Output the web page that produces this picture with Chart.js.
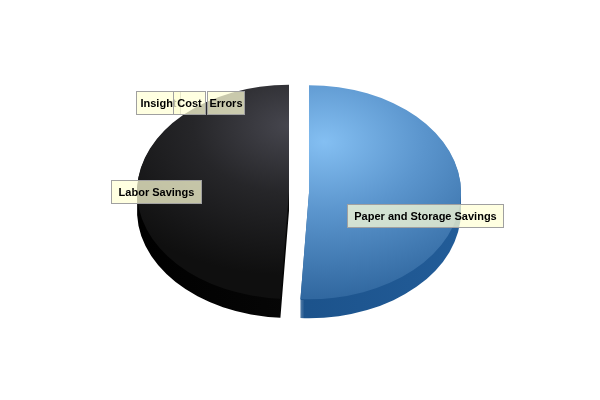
<!DOCTYPE html>
<html>
<head>
<meta charset="utf-8">
<script src="https://cdn.jsdelivr.net/npm/chart.js@4/dist/chart.umd.min.js"></script>
<style>
  html, body { margin: 0; padding: 0; background: #ffffff; }
  #wrap { width: 600px; height: 400px; }
</style>
</head>
<body>
<div id="wrap"><canvas id="c" width="600" height="400"></canvas></div>
<script>
// ---- data ----
const categories = ['Paper and Storage Savings', 'Labor Savings', 'Insight', 'Cost', 'Errors'];
const shares = [50.9, 49.1, 0, 0, 0];

// ---- styling / layout (not data) ----
const faceStops = [
  { at: [0.10, -0.47], r: 1.45, stops: [[0, '#84bff2'], [0.45, '#5b95cd'], [1, '#3168a0']] },
  { at: [0.0, -0.62], r: 1.4, stops: [[0, '#46464e'], [0.45, '#262629'], [1, '#0f0f0f']] },
  { at: [0, 0], r: 1, stops: [[0, '#999'], [1, '#999']] },
  { at: [0, 0], r: 1, stops: [[0, '#999'], [1, '#999']] },
  { at: [0, 0], r: 1, stops: [[0, '#999'], [1, '#999']] }
];
const sideColors = [['#164a80', '#225c98'], ['#000000', '#0c0c0c'], ['#666', '#666'], ['#666', '#666'], ['#666', '#666']];
const explode = [10, 10, 0, 0, 0];
// label box centres relative to pie centre, in radius units (x) and tilted-radius units (y)
const labelLayout = [
  { fx: 0.829, fy: 0.220, pad: 7 },
  { fx: -0.941, fy: -0.005, pad: 7 },
  { fx: -0.928, fy: -0.832, pad: 4 },
  { fx: -0.724, fy: -0.832, pad: 4 },
  { fx: -0.484, fy: -0.832, pad: 2 }
];
const TILT = 107 / 152;
const SCREEN_CY = 192;
const DEPTH = 19;

function faceFill(c) {
  const chart = c.chart;
  const ca = chart.chartArea;
  const i = c.dataIndex;
  if (!ca || i === undefined) return '#888';
  const meta = chart.getDatasetMeta(0);
  const arc = meta.data[i];
  const R = (arc && arc.outerRadius) ? arc.outerRadius : 152;
  const cx = (ca.left + ca.right) / 2, cy = (ca.top + ca.bottom) / 2;
  const f = faceStops[i];
  const gx = cx + f.at[0] * R, gy = cy + f.at[1] * R;
  const g = chart.ctx.createRadialGradient(gx, gy, 0, gx, gy, f.r * R);
  f.stops.forEach(s => g.addColorStop(s[0], s[1]));
  return g;
}

function applyTilt(ctx, chart) {
  const ca = chart.chartArea;
  const cyC = (ca.top + ca.bottom) / 2;
  ctx.translate(0, SCREEN_CY);
  ctx.scale(1, TILT);
  ctx.translate(0, -cyC);
}

const pie3d = {
  id: 'pie3d',
  beforeDatasetsDraw(chart) {
    const ctx = chart.ctx;
    const arcs = chart.getDatasetMeta(0).data;
    // sides (extrusion)
    arcs.forEach((arc, i) => {
      if (!arc.circumference) return;
      const mid = (arc.startAngle + arc.endAngle) / 2;
      const ex = Math.cos(mid) * explode[i], ey = Math.sin(mid) * explode[i];
      ctx.save();
      applyTilt(ctx, chart);
      ctx.translate(ex, ey);
      const R = arc.outerRadius;
      const g = ctx.createLinearGradient(arc.x - R, 0, arc.x + R, 0);
      g.addColorStop(0, sideColors[i][0]);
      g.addColorStop(1, sideColors[i][1]);
      ctx.fillStyle = g;
      ctx.beginPath();
      for (let d = 1; d <= DEPTH; d++) {
        const yy = arc.y + d / TILT;
        ctx.moveTo(arc.x, yy);
        ctx.arc(arc.x, yy, R, arc.startAngle, arc.endAngle);
        ctx.closePath();
      }
      ctx.fill();
      ctx.restore();
    });
    // top faces, drawn by the library's arc elements
    arcs.forEach((arc, i) => {
      if (!arc.circumference) return;
      const mid = (arc.startAngle + arc.endAngle) / 2;
      const ex = Math.cos(mid) * explode[i], ey = Math.sin(mid) * explode[i];
      ctx.save();
      applyTilt(ctx, chart);
      ctx.translate(ex, ey);
      arc.draw(ctx);
      ctx.restore();
    });
    return false;
  },
  afterDraw(chart) {
    const ctx = chart.ctx;
    const arcs = chart.getDatasetMeta(0).data;
    const ca = chart.chartArea;
    const cx = (ca.left + ca.right) / 2;
    const R = arcs[0].outerRadius;
    ctx.save();
    ctx.font = "bold 11px 'Liberation Sans', Arial, sans-serif";
    ctx.textAlign = 'center';
    ctx.textBaseline = 'middle';
    categories.forEach((name, i) => {
      const L = labelLayout[i];
      const x = cx + L.fx * R;
      const y = SCREEN_CY + L.fy * R * TILT;
      const tw = ctx.measureText(name).width;
      const w = Math.round(tw + 2 * L.pad), h = 23;
      const bx = Math.round(x - w / 2) + 0.5, by = Math.round(y - h / 2) + 0.5;
      ctx.fillStyle = 'rgba(255,255,214,0.74)';
      ctx.fillRect(bx, by, w, h);
      ctx.strokeStyle = '#a0a0a0';
      ctx.lineWidth = 1;
      ctx.strokeRect(bx, by, w, h);
      ctx.fillStyle = '#000000';
      ctx.fillText(name, bx + w / 2, by + h / 2 + 0.5);
    });
    ctx.restore();
  }
};

new Chart(document.getElementById('c'), {
  type: 'pie',
  data: {
    labels: categories,
    datasets: [{
      data: shares,
      backgroundColor: faceFill,
      borderWidth: 0,
      radius: 152,
      offset: 0,
      hoverOffset: 0
    }]
  },
  options: {
    responsive: false,
    devicePixelRatio: 1,
    animation: false,
    events: [],
    layout: { padding: { left: 0, right: 2, top: 0, bottom: 0 } },
    plugins: {
      legend: { display: false },
      tooltip: { enabled: false },
      title: { display: false }
    }
  },
  plugins: [pie3d]
});
</script>
</body>
</html>
